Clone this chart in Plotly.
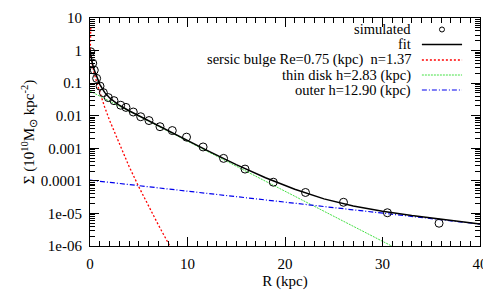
import plotly.graph_objects as go

# ---- data ----
sim_R = [0.07, 0.28, 0.44, 0.68, 1.03, 1.37, 1.88, 2.46, 3.15, 3.69, 4.44, 5.2, 6.05,
         7.18, 8.44, 9.9, 11.6, 13.7, 15.9, 18.8, 22.1, 26.0, 30.5, 35.8]
sim_S = [0.92, 0.41, 0.25, 0.14, 0.081, 0.051, 0.036, 0.029, 0.021, 0.018, 0.013, 0.0093,
         0.0071, 0.0046, 0.0035, 0.0022, 0.0011, 0.00049, 0.00023, 9.1e-5, 4.4e-5, 2.2e-5,
         1.05e-5, 5.0e-6]

fit_R = [0, 0.05, 0.2, 0.4, 0.7, 1.0, 1.5, 2, 2.5, 3, 4, 5, 6, 8, 10, 12, 15, 18, 21, 24,
         27, 30, 33, 36, 40]
fit_S = [1.08, 0.79, 0.46, 0.27, 0.148, 0.092, 0.052, 0.0355, 0.027, 0.021, 0.0142, 0.0100,
         0.0070, 0.00343, 0.00171, 0.00086, 0.000316, 0.000125, 5.5e-5, 2.8e-5, 1.7e-5,
         1.17e-5, 8.6e-6, 6.6e-6, 4.75e-6]

bulge_R = [0.08, 0.03, 0.1, 0.2, 0.4, 0.7, 1.0, 1.5, 2, 3, 4, 5, 6, 7, 8, 8.6]
bulge_S = [5.0, 1.0, 0.59, 0.41, 0.22, 0.103, 0.052, 0.0186, 0.0073, 0.00134, 2.8e-4,
           6.6e-5, 1.7e-5, 4.5e-6, 1.27e-6, 6e-7]

disk_R = [0, 10, 20, 31.5]
disk_S = [0.057, 1.66e-3, 4.9e-5, 8.2e-7]

outer_R = [0, 10, 20, 30, 40]
outer_S = [1.05e-4, 4.84e-5, 2.22e-5, 1.03e-5, 4.7e-6]

legend_labels = ["simulated", "fit", "sersic bulge Re=0.75 (kpc)  n=1.37",
                 "thin disk h=2.83 (kpc)", "outer h=12.90 (kpc)"]

y_tickvals = [1e-6, 1e-5, 1e-4, 1e-3, 1e-2, 1e-1, 1, 10]
y_ticktext = ["1e-06", "1e-05", "0.0001", "0.001", "0.01", "0.1", "1", "10"]
x_tickvals = [0, 10, 20, 30, 40]

# ---- styles ----
FONT = "Liberation Serif"
FS = 15
LFS = 14.5
RED = "#ff0000"
GREEN = "#44e044"
BLUE = "#0000ee"
styles = [
    None,
    dict(color="black", width=1.5, dash="solid"),
    dict(color=RED, width=1.3, dash="2px,2px"),
    dict(color=GREEN, width=1.0, dash="2px,1px"),
    dict(color=BLUE, width=1.2, dash="5px,2px,1px,2px"),
]

fig = go.Figure()
fig.add_trace(go.Scatter(x=disk_R, y=disk_S, mode="lines", line=styles[3], showlegend=False))
fig.add_trace(go.Scatter(x=outer_R, y=outer_S, mode="lines", line=styles[4], showlegend=False))
fig.add_trace(go.Scatter(x=bulge_R, y=bulge_S, mode="lines", line=styles[2], showlegend=False))
fig.add_trace(go.Scatter(x=fit_R, y=fit_S, mode="lines", line=styles[1], showlegend=False))
fig.add_trace(go.Scatter(x=sim_R, y=sim_S, mode="markers",
                         marker=dict(symbol="circle-open", size=8, color="black",
                                     line=dict(width=1, color="black")),
                         showlegend=False))

# manual legend: text right-aligned, sample to the right
row_y = [0.9496, 0.8838, 0.8158, 0.750, 0.6842]
text_x = 0.826
s0, s1 = 0.851, 0.954
shapes = []
annotations = []
for i, lab in enumerate(legend_labels):
    annotations.append(dict(x=text_x, y=row_y[i], xref="paper", yref="paper", text=lab,
                            showarrow=False, xanchor="right", yanchor="middle",
                            borderpad=0,
                            font=dict(family=FONT, size=LFS, color="black")))
    if styles[i] is None:
        shapes.append(dict(type="circle", xref="paper", yref="paper",
                           xsizemode="pixel", ysizemode="pixel",
                           xanchor=(s0 + s1) / 2, yanchor=row_y[i],
                           x0=-2.5, x1=2.5, y0=-2.5, y1=2.5,
                           line=dict(color="black", width=1)))
    else:
        shapes.append(dict(type="line", xref="paper", yref="paper",
                           x0=s0, x1=s1, y0=row_y[i], y1=row_y[i], line=styles[i]))

minor_y = [m * 10 ** e for e in range(-6, 1) for m in range(2, 10)]

fig.update_layout(
    width=491, height=294,
    margin=dict(l=82, r=19, t=10, b=56),
    paper_bgcolor="white", plot_bgcolor="white",
    font=dict(family=FONT, size=FS, color="black"),
    shapes=shapes, annotations=annotations,
    xaxis=dict(range=[0, 40], tickvals=x_tickvals, ticks="inside", ticklen=9,
               tickcolor="black", showline=True, linecolor="black", linewidth=1,
               mirror="allticks", showgrid=False, zeroline=False, automargin=False,
               ticklabelstandoff=4, tickfont=dict(family=FONT, size=FS),
               minor=dict(dtick=1, tick0=0, ticks="inside", ticklen=5, tickcolor="black",
                          showgrid=False),
               title=dict(text="R (kpc)", font=dict(family=FONT, size=FS), standoff=4)),
    yaxis=dict(type="log", range=[-6, 1], tickvals=y_tickvals, ticktext=y_ticktext,
               ticks="inside", ticklen=9, tickcolor="black", showline=True,
               linecolor="black", linewidth=1, mirror="allticks", showgrid=False,
               zeroline=False, automargin=False, ticklabelstandoff=4,
               tickfont=dict(family=FONT, size=FS),
               minor=dict(tickvals=minor_y, ticks="inside", ticklen=5, tickcolor="black",
                          showgrid=False),
               title=dict(text="Σ (10<sup>10</sup>M<sub>⊙</sub> kpc<sup>-2</sup>)",
                          font=dict(family=FONT, size=FS), standoff=2)),
)

fig.write_html("out.html")
